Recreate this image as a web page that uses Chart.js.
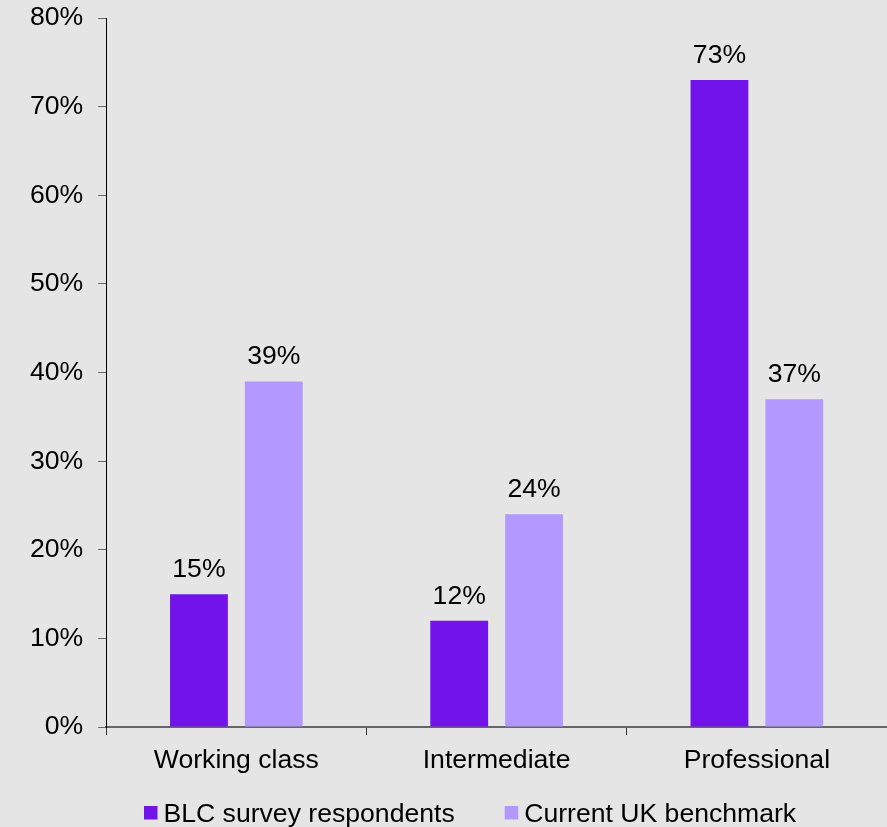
<!DOCTYPE html>
<html><head><meta charset="utf-8">
<script src="https://cdn.jsdelivr.net/npm/chart.js@4/dist/chart.umd.min.js"></script>
<style>html,body{margin:0;padding:0;background:#e5e5e5;}#wrap{width:887px;height:827px;}</style>
</head><body><div id="wrap"><canvas id="c" width="887" height="827"></canvas></div>
<script>
const categories = ['Working class', 'Intermediate', 'Professional'];
const blcValues = [15, 12, 73];
const ukValues = [39, 24, 37];
const yTicks = [0, 10, 20, 30, 40, 50, 60, 70, 80];
const seriesNames = ['BLC survey respondents', 'Current UK benchmark'];

const FONT = '"Liberation Sans", Arial, sans-serif';
const FS = 26.6;

const labelPlugin = {
  id: 'valueLabels',
  afterDatasetsDraw(chart) {
    const ctx = chart.ctx;
    ctx.save();
    ctx.font = FS + 'px ' + FONT;
    ctx.fillStyle = '#000';
    ctx.textAlign = 'center';
    ctx.textBaseline = 'alphabetic';
    chart.data.datasets.forEach((ds, di) => {
      chart.getDatasetMeta(di).data.forEach((bar, i) => {
        ctx.fillText(ds.data[i] + '%', bar.x, bar.y - 17);
      });
    });
    ctx.restore();
  }
};
const legendPlugin = {
  id: 'customLegend',
  afterDraw(chart) {
    const ctx = chart.ctx;
    ctx.save();
    ctx.font = FS + 'px ' + FONT;
    ctx.textBaseline = 'alphabetic';
    ctx.textAlign = 'left';
    let x = 144;
    const boxTop = 806, box = 13.5, baseline = 822;
    chart.data.datasets.forEach((ds) => {
      ctx.fillStyle = ds.backgroundColor;
      ctx.fillRect(x, boxTop, box, box);
      ctx.fillStyle = '#000';
      const tx = x + box + 6;
      ctx.fillText(ds.label, tx, baseline);
      x = tx + ctx.measureText(ds.label).width + 50;
    });
    ctx.restore();
  }
};
const bgPlugin = {
  id: 'bg',
  beforeDraw(chart) {
    const ctx = chart.ctx;
    ctx.save();
    ctx.fillStyle = '#e5e5e5';
    ctx.fillRect(0, 0, chart.width, chart.height);
    ctx.restore();
  }
};

new Chart(document.getElementById('c'), {
  type: 'bar',
  data: {
    labels: categories,
    datasets: [
      { label: seriesNames[0], data: blcValues, backgroundColor: '#7213ea', categoryPercentage: 0.575, barPercentage: 0.773 },
      { label: seriesNames[1], data: ukValues, backgroundColor: '#b399ff', categoryPercentage: 0.575, barPercentage: 0.773 }
    ]
  },
  options: {
    responsive: false,
    animation: false,
    layout: { padding: { top: 18, right: 0, left: 15, bottom: 40 } },
    plugins: {
      legend: { display: false },
      tooltip: { enabled: false }
    },
    scales: {
      x: {
        grid: { drawOnChartArea: false, drawTicks: true, tickLength: 8, color: '#333', offset: true },
        border: { color: '#666', width: 2 },
        ticks: { color: '#000', font: { family: FONT, size: FS }, padding: 10 }
      },
      y: {
        min: 0, max: 80,
        afterBuildTicks(axis) { axis.ticks = yTicks.map(v => ({ value: v })); },
        grid: { drawOnChartArea: false, drawTicks: true, tickLength: 8, color: '#666' },
        border: { color: '#000', width: 1 },
        ticks: { color: '#000', font: { family: FONT, size: FS, lineHeight: 0.2 }, padding: 15, callback: v => v + '%' }
      }
    }
  },
  plugins: [bgPlugin, labelPlugin, legendPlugin]
});
</script></body></html>
